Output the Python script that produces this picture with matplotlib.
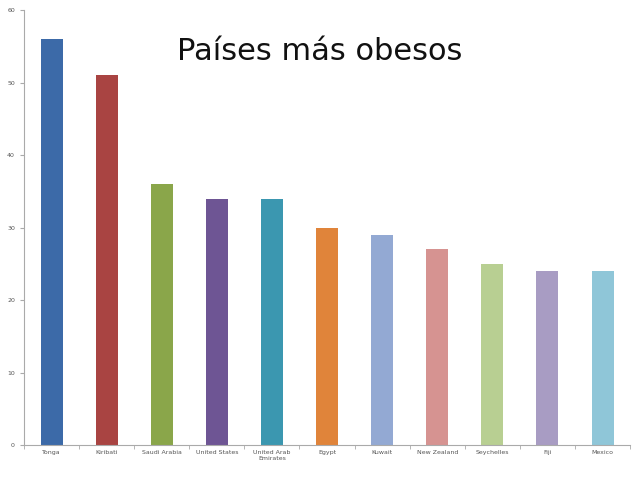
import matplotlib.pyplot as plt
import numpy as np

paises = ['Tonga', 'Kiribati', 'Saudi Arabia', 'United States', 'United Arab\nEmirates',
          'Egypt', 'Kuwait', 'New Zealand', 'Seychelles', 'Fiji', 'Mexico']
valores = [56, 51, 36, 34, 34, 30, 29, 27, 25, 24, 24]
colores = ['#3c6aa8', '#a94442', '#8aa64a', '#6e5594', '#3b97b0', '#e0843a',
           '#93a9d3', '#d69391', '#b8cf92', '#a89cc3', '#8fc6d8']

fig = plt.figure(figsize=(6.4, 4.79), dpi=100)
ax = fig.add_axes([0.0375, 0.071, 0.947, 0.908])
x = np.arange(len(paises))
ax.bar(x, valores, width=0.4, color=colores)
ax.set_xlim(-0.5, len(paises) - 0.5)
ax.set_ylim(0, 60)
ax.set_yticks(range(0, 61, 10))
ax.set_xticks(x)
ax.set_xticklabels(paises, fontsize=4.5, color='#555555')
ax.tick_params(axis='y', labelsize=4.5, labelcolor='#555555', length=3, color='#aaaaaa')
ax.tick_params(axis='x', length=0)
ax.set_xticks(np.arange(-0.5, len(paises), 1), minor=True)
ax.tick_params(axis='x', which='minor', length=3, color='#aaaaaa')
for s in ['top', 'right']:
    ax.spines[s].set_visible(False)
for s in ['left', 'bottom']:
    ax.spines[s].set_color('#aaaaaa')
fig.text(0.5, 0.875, 'Países más obesos', fontsize=22, ha='center', color='#111111')
fig.savefig('out.png', dpi=100)
